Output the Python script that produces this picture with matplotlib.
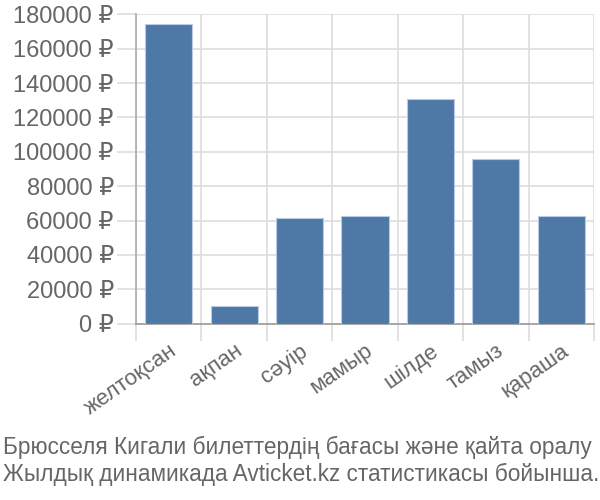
import matplotlib
matplotlib.use('Agg')
import matplotlib.pyplot as plt
from matplotlib.ticker import FuncFormatter, FixedLocator

months = ['желтоқсан', 'ақпан', 'сәуір', 'мамыр', 'шілде', 'тамыз', 'қараша']
prices = [174500, 10300, 61300, 62600, 130900, 95600, 62600]
yticks = list(range(0, 180001, 20000))
caption = ['Брюсселя Кигали билеттердің бағасы және қайта оралу',
           'Жылдық динамикада Avticket.kz статистикасы бойынша.']

plt.rcParams['font.family'] = ['Liberation Sans', 'DejaVu Sans']
txt = '#666666'
grid = '#dddddd'

fig = plt.figure(figsize=(6, 5), dpi=100)
ax = fig.add_axes([0.2267, 0.3526, 0.7633, 0.6188])

x = list(range(len(months)))
ax.bar(x, prices, width=0.72, color='#4e79a7', edgecolor='#b9cbe0', linewidth=0.8, zorder=3)

ax.set_xlim(-0.5, len(months) - 0.5)
ax.set_ylim(0, 180000)
ax.set_yticks(yticks)
ax.yaxis.set_major_formatter(FuncFormatter(lambda v, p: f'{int(v)} ₽'))

ax.set_xticks(x)
ax.set_xticklabels(months, rotation=35, ha='right', rotation_mode='anchor', fontsize=16)
ax.xaxis.set_minor_locator(FixedLocator([i - 0.5 for i in range(len(months) + 1)]))
ax.tick_params(axis='x', which='major', length=0, pad=12)
ax.tick_params(axis='x', which='minor', length=12, color=grid, width=1.2)
ax.tick_params(axis='y', length=14, color=grid, width=1.2, pad=2, labelsize=17)
ax.tick_params(labelcolor=txt)

ax.grid(axis='y', color=grid, linewidth=1.2, zorder=0)
ax.grid(axis='x', which='minor', color=grid, linewidth=1.2, zorder=0)

for s in ['top', 'right']:
    ax.spines[s].set_visible(False)
ax.spines['left'].set_color('#aaaaaa')
ax.spines['bottom'].set_color('#999999')
ax.spines['left'].set_linewidth(1.2)
ax.spines['bottom'].set_linewidth(1.2)

fig.text(0.005, 0.105, caption[0], fontsize=16.3, color=txt, ha='left', va='center')
fig.text(0.005, 0.052, caption[1], fontsize=16.3, color=txt, ha='left', va='center')

fig.savefig('out.png', dpi=100)
